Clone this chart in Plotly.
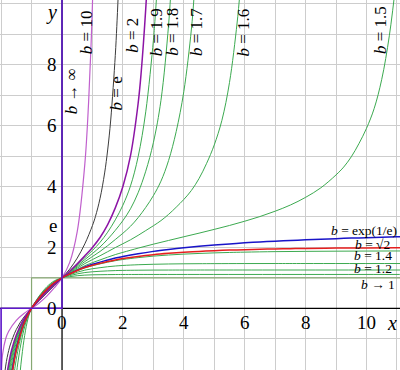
import plotly.graph_objects as go

B10_X = [-1.9948, -1.9847, -1.9494, -1.8496, -1.75, -1.5, -1.25, -1.0, -0.75, -0.5, -0.25, 0.0, 0.25, 0.5, 0.75, 0.875, 0.95, 1.0, 1.02]
B10_Y = [-2.5, -2.03, -1.5, -1.0, -0.754, -0.396, -0.170, 0.0, 0.176, 0.401, 0.676, 1.0, 1.5, 2.52, 4.744, 6.79, 8.54, 10.0, 10.68]

BE_X = [-1.9, -1.85, -1.8, -1.75, -1.7, -1.5, -1.25, -1.0, -0.75, -0.5, -0.25, 0.0, 0.25, 0.5, 0.75, 1.0, 1.1, 1.25, 1.4, 1.5, 1.6, 1.75, 1.8, 1.85]
BE_Y = [-2.303, -1.897, -1.609, -1.386, -1.204, -0.693, -0.288, 0.0, 0.25, 0.5, 0.75, 1.0, 1.284, 1.649, 2.117, 2.718, 3.020, 3.611, 4.445, 5.200, 6.185, 8.306, 9.258, 10.377]

B2_X = [-1.8468, -1.7857, -1.75, -1.65, -1.5, -1.25, -1.0, -0.75, -0.5, -0.25, 0.0, 0.25, 0.5, 0.75, 1.0, 1.25, 1.5, 1.75, 2.0, 2.25, 2.5, 2.6, 2.75, 2.8]
B2_Y = [-2.5, -2.03, -1.816, -1.354, -0.875, -0.351, 0.0, 0.284, 0.545, 0.784, 1.0, 1.218, 1.459, 1.722, 2.0, 2.326, 2.750, 3.298, 4.0, 5.013, 6.726, 7.743, 9.838, 10.748]

B19_X = [-1.8299, -1.7673, -1.75, -1.65, -1.5, -1.25, -1.0, -0.75, -0.5, -0.25, 0.0, 0.25, 0.5, 0.75, 1.0, 1.25, 1.5, 1.75, 2.0, 2.25, 2.5, 2.75, 3.0, 3.05, 3.1, 3.15]
B19_Y = [-2.5, -2.03, -1.924, -1.429, -0.919, -0.365, 0.0, 0.291, 0.555, 0.791, 1.0, 1.205, 1.428, 1.661, 1.9, 2.168, 2.500, 2.905, 3.386, 4.020, 4.976, 6.452, 8.785, 9.415, 10.144, 11.0]

B18_X = [-1.8, -1.75, -1.65, -1.5, -1.25, -1.0, -0.75, -0.5, -0.25, 0.0, 0.25, 0.5, 0.75, 1.0, 1.25, 1.5, 1.75, 2.0, 2.25, 2.5, 2.75, 3.0, 3.25, 3.5, 3.6]
B18_Y = [-2.417, -2.056, -1.521, -0.972, -0.382, 0.0, 0.299, 0.565, 0.799, 1.0, 1.192, 1.394, 1.599, 1.8, 2.015, 2.269, 2.560, 2.881, 3.269, 3.795, 4.502, 5.437, 6.830, 9.304, 10.831]

B17_X = [-1.75, -1.7, -1.65, -1.5, -1.25, -1.0, -0.75, -0.5, -0.25, 0.0, 0.25, 0.5, 0.75, 1.0, 1.25, 1.5, 1.75, 2.0, 2.25, 2.5, 2.75, 3.0, 3.25, 3.5, 3.75, 4.0, 4.25, 4.35]
B17_Y = [-2.222, -1.902, -1.636, -1.037, -0.403, 0.0, 0.308, 0.577, 0.808, 1.0, 1.177, 1.358, 1.535, 1.7, 1.868, 2.056, 2.258, 2.465, 2.694, 2.977, 3.314, 3.698, 4.176, 4.853, 5.804, 7.116, 9.171, 10.433]

B16_X = [-1.75, -1.7, -1.6, -1.5, -1.25, -1.0, -0.75, -0.5, -0.25, 0.0, 0.25, 0.5, 0.75, 1.0, 1.25, 1.5, 1.75, 2.0, 2.25, 2.5, 2.75, 3.0, 3.25, 3.5, 3.75, 4.0, 4.25, 4.5, 4.75, 5.0, 5.25, 5.5, 5.75, 5.85]
B16_Y = [-2.440, -2.083, -1.533, -1.122, -0.428, 0.0, 0.318, 0.590, 0.818, 1.0, 1.161, 1.320, 1.469, 1.6, 1.726, 1.859, 1.994, 2.121, 2.250, 2.396, 2.553, 2.710, 2.880, 3.084, 3.320, 3.574, 3.871, 4.261, 4.761, 5.365, 6.169, 7.411, 9.370, 10.444]

B15_X = [-1.7, -1.65, -1.6, -1.5, -1.25, -1.0, -0.75, -0.5, -0.25, 0.0, 0.25, 0.5, 0.75, 1.0, 1.25, 1.5, 1.75, 2.0, 2.5, 3.0, 3.5, 4.0, 4.5, 5.0, 5.5, 6.0, 6.5, 7.0, 7.5, 8.0, 8.5, 9.0, 9.25, 9.5, 9.75, 10.0, 10.25, 10.5, 10.75, 11.0]
B15_Y = [-2.330, -1.990, -1.702, -1.236, -0.462, 0.0, 0.329, 0.606, 0.829, 1.0, 1.143, 1.278, 1.400, 1.5, 1.589, 1.679, 1.764, 1.837, 1.976, 2.106, 2.228, 2.349, 2.468, 2.592, 2.720, 2.860, 3.013, 3.189, 3.392, 3.644, 3.957, 4.382, 4.638, 4.975, 5.406, 5.911, 6.557, 7.518, 8.952, 10.988]

BEE_X = [-1.65, -1.6, -1.5, -1.25, -1.0, -0.75, -0.5, -0.25, 0.0, 0.25, 0.5, 0.75, 1.0, 1.25, 1.5, 1.75, 2.0, 2.5, 3.0, 3.5, 4.0, 4.5, 5.0, 5.5, 6.0, 6.5, 7.0, 7.5, 8.0, 8.5, 9.0, 9.5, 10.0, 10.5, 11.0, 11.5]
BEE_Y = [-2.140, -1.826, -1.319, -0.485, 0.0, 0.337, 0.616, 0.837, 1.0, 1.132, 1.254, 1.360, 1.445, 1.517, 1.586, 1.650, 1.701, 1.792, 1.870, 1.934, 1.990, 2.037, 2.079, 2.116, 2.149, 2.178, 2.204, 2.228, 2.250, 2.270, 2.288, 2.305, 2.320, 2.335, 2.348, 2.361]

BR2_X = [-1.65, -1.6, -1.5, -1.25, -1.0, -0.75, -0.5, -0.25, 0.0, 0.25, 0.5, 0.75, 1.0, 1.25, 1.5, 1.75, 2.0, 2.5, 3.0, 3.5, 4.0, 4.5, 5.0, 5.5, 6.0, 6.5, 7.0, 7.5, 8.0, 9.0, 10.0, 11.0, 12.0]
BR2_Y = [-2.238, -1.907, -1.373, -0.500, 0.0, 0.341, 0.621, 0.841, 1.0, 1.125, 1.240, 1.338, 1.414, 1.477, 1.537, 1.590, 1.633, 1.704, 1.761, 1.805, 1.841, 1.869, 1.893, 1.911, 1.927, 1.940, 1.950, 1.959, 1.966, 1.977, 1.984, 1.989, 1.992]

B14_X = [-1.65, -1.6, -1.5, -1.25, -1.0, -0.75, -0.5, -0.25, 0.0, 0.25, 0.5, 0.75, 1.0, 1.25, 1.5, 1.75, 2.0, 2.5, 3.0, 3.5, 4.0, 4.5, 5.0, 5.5, 6.0, 7.0, 8.0, 9.0, 10.0, 11.0, 12.0]
B14_Y = [-2.289, -1.948, -1.401, -0.507, 0.0, 0.343, 0.624, 0.843, 1.0, 1.122, 1.234, 1.328, 1.4, 1.459, 1.515, 1.563, 1.602, 1.665, 1.714, 1.751, 1.780, 1.802, 1.820, 1.834, 1.845, 1.861, 1.870, 1.876, 1.880, 1.883, 1.884]

B13_X = [-1.6, -1.55, -1.5, -1.4, -1.25, -1.0, -0.75, -0.5, -0.25, 0.0, 0.25, 0.5, 0.75, 1.0, 1.25, 1.5, 1.75, 2.0, 2.5, 3.0, 3.5, 4.0, 4.5, 5.0, 6.0, 7.0, 8.0, 12.0]
B13_Y = [-2.347, -1.981, -1.665, -1.146, -0.577, 0.0, 0.360, 0.646, 0.860, 1.0, 1.099, 1.185, 1.253, 1.3, 1.334, 1.365, 1.389, 1.407, 1.431, 1.446, 1.456, 1.462, 1.465, 1.467, 1.470, 1.4705, 1.4708, 1.471]

B12_X = [-1.5, -1.45, -1.4, -1.35, -1.25, -1.15, -1.0, -0.75, -0.5, -0.25, 0.0, 0.25, 0.5, 0.75, 1.0, 1.25, 1.5, 1.75, 2.0, 2.5, 3.0, 3.5, 4.0, 5.0, 12.0]
B12_Y = [-2.173, -1.793, -1.462, -1.174, -0.703, -0.350, 0.0, 0.380, 0.673, 0.880, 1.0, 1.072, 1.131, 1.174, 1.2, 1.216, 1.229, 1.239, 1.245, 1.251, 1.255, 1.256, 1.257, 1.2576, 1.2577]

B11_X = [-1.4, -1.35, -1.3, -1.25, -1.2, -1.15, -1.07, -1.0, -0.75, -0.5, -0.25, 0.0, 0.25, 0.5, 0.75, 1.0, 1.25, 1.5, 1.75, 2.0, 3.0, 12.0]
B11_Y = [-2.364, -1.855, -1.420, -1.049, -0.737, -0.480, -0.172, 0.0, 0.405, 0.706, 0.905, 1.0, 1.039, 1.070, 1.090, 1.1, 1.104, 1.107, 1.1095, 1.1105, 1.1117, 1.1118]

BINF_X = [-2.0, -2.0, 0.0, 0.0]
BINF_Y = [-3.0, 0.0, 0.0, 11.0]
BONE_X = [-1.0, -1.0, 12.0]
BONE_Y = [-3.0, 1.0, 1.0]

X_TICKS = [0, 2, 4, 6, 8, 10]
Y_TICKS = [0, 2, 4, 6, 8]
E_VAL = 2.71828

X_RANGE = [-2.036, 11.1]
Y_RANGE = [-2.026, 10.125]

GREEN = "rgb(60,170,80)"
SERIF = "Liberation Serif"

fig = go.Figure()

def add(x, y, color, width, shape="spline"):
    fig.add_trace(go.Scatter(x=x, y=y, mode="lines", hoverinfo="skip",
                             line=dict(color=color, width=width, shape=shape)))

# axes
add([X_RANGE[0] - 1, X_RANGE[1] + 1], [0, 0], "black", 1.2, "linear")
add([0, 0], [Y_RANGE[0] - 1, Y_RANGE[1] + 1], "black", 1.2, "linear")

for xs, ys in [(B11_X, B11_Y), (B12_X, B12_Y), (B13_X, B13_Y), (B14_X, B14_Y),
               (B15_X, B15_Y), (B16_X, B16_Y), (B17_X, B17_Y), (B18_X, B18_Y), (B19_X, B19_Y)]:
    add(xs, ys, GREEN, 1)

add(BONE_X, BONE_Y, "rgb(135,168,115)", 1.2, "linear")
add(B10_X, B10_Y, "rgb(192,96,205)", 1.2)
add(BE_X, BE_Y, "rgb(60,60,60)", 1)
add(B2_X, B2_Y, "rgb(140,20,165)", 1.5)
add(BEE_X, BEE_Y, "rgb(25,20,200)", 1.5)
add(BR2_X, BR2_Y, "rgb(230,30,30)", 1.5)
add(BINF_X, BINF_Y, "rgb(95,25,205)", 1.6, "linear")

ann = []
def label(x, y, text, size=17, angle=0, xanchor="center"):
    ann.append(dict(x=x, y=y, text=text, showarrow=False, textangle=angle,
                    xanchor=xanchor, yanchor="middle", borderpad=0,
                    font=dict(family=SERIF, size=size, color="black")))

for t in X_TICKS:
    label(t, -0.47, str(t), 19)
for t in Y_TICKS:
    label(-0.12, t, str(t), 19, xanchor="right")
label(-0.12, E_VAL, "e", 19, xanchor="right")
label(10.85, -0.47, "<i>x</i>", 20)
label(-0.33, 9.7, "<i>y</i>", 20)

label(0.31, 7.14, "<i>b</i> → ∞", 17, -90)
label(0.79, 9.07, "<i>b</i> = 10", 17, -90)
label(1.79, 7.04, "<i>b</i> = e", 17, -90)
label(2.33, 8.98, "<i>b</i> = 2", 17, -90)
label(3.09, 9.07, "<i>b</i> = 1.9", 17, -90)
label(3.63, 9.07, "<i>b</i> = 1.8", 17, -90)
label(4.40, 9.07, "<i>b</i> = 1.7", 17, -90)
label(5.96, 9.07, "<i>b</i> = 1.6", 17, -90)
label(10.48, 9.14, "<i>b</i> = 1.5", 17, -90)

label(11.05, 2.57, "<i>b</i> = exp(1/e)", 13.5, xanchor="right")
label(10.8, 2.08, "<i>b</i> = √2", 13.5, xanchor="right")
label(10.86, 1.72, "<i>b</i> = 1.4", 13.5, xanchor="right")
label(10.86, 1.32, "<i>b</i> = 1.2", 13.5, xanchor="right")
label(10.96, 0.78, "<i>b</i> → 1", 13.5, xanchor="right")

fig.update_layout(
    width=400, height=370, margin=dict(l=0, r=0, t=0, b=0),
    paper_bgcolor="white", plot_bgcolor="white", showlegend=False,
    annotations=ann,
    xaxis=dict(range=X_RANGE, tick0=0, dtick=1, showticklabels=False, zeroline=False,
               showline=False, showgrid=True, gridcolor="rgb(205,205,205)", gridwidth=1.2, fixedrange=True),
    yaxis=dict(range=Y_RANGE, tick0=0, dtick=1, showticklabels=False, zeroline=False,
               showline=False, showgrid=True, gridcolor="rgb(205,205,205)", gridwidth=1.2, fixedrange=True),
)

fig.write_html("out.html", config={"displayModeBar": False},
               post_script="document.body.style.margin='0';document.body.style.padding='0';document.body.style.overflow='hidden';")
